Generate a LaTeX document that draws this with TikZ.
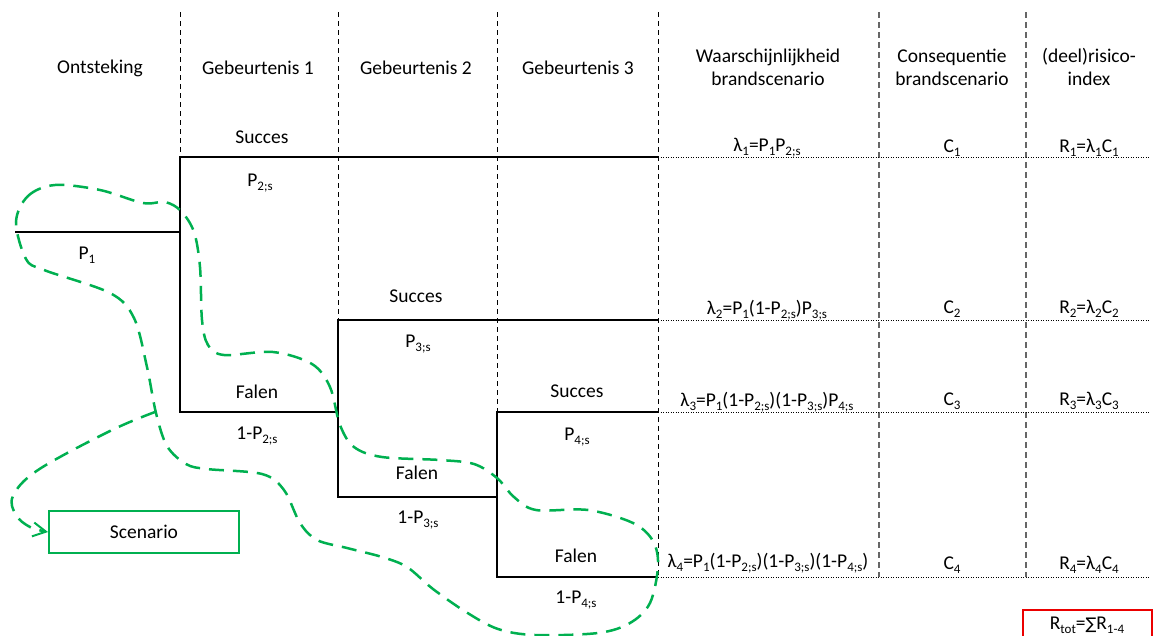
\documentclass[tikz,border=0pt]{standalone}
\usepackage{fontspec}
\setmainfont{Carlito}
\newfontfamily\symf{DejaVu Sans}
\usetikzlibrary{arrows.meta}
\newcommand\sbs[1]{\raisebox{-0.22em}{\fontsize{13}{13}\selectfont #1}}
\definecolor{grn}{RGB}{0,176,80}
\definecolor{rd}{RGB}{235,0,0}
\begin{document}
\begin{tikzpicture}[x=1pt,y=-1pt,font=\fontsize{19.5}{23}\selectfont,
  lbl/.style={inner sep=0pt,align=center},
  tree/.style={line width=2.2pt,black},
  colsep/.style={black,line width=0.8pt,dash pattern=on 5pt off 4pt},
  colsepg/.style={black!60,line width=1.4pt,dash pattern=on 6pt off 4pt},
  rowline/.style={black,line width=0.8pt,dash pattern=on 1pt off 1.5pt},
  gloop/.style={grn,line width=2.5pt,dash pattern=on 15pt off 9pt}]
\clip (0,0) rectangle (1157,635);
% tree coordinates
\coordinate (p0) at (15,232);
\coordinate (b1) at (180,232);
\coordinate (s1) at (180,157);
\coordinate (f1) at (180,412);
\coordinate (j2) at (338,412);
\coordinate (s2) at (338,320);
\coordinate (f2) at (338,497);
\coordinate (j3) at (497,497);
\coordinate (s3) at (497,412);
\coordinate (f3) at (497,577);
\coordinate (e1) at (658,157);
\coordinate (e2) at (658,320);
\coordinate (e3) at (658,412);
\coordinate (e4) at (658,577);
\coordinate (r1) at (1150,157);
\coordinate (r2) at (1150,320);
\coordinate (r3) at (1150,412);
\coordinate (r4) at (1150,577);
\coordinate (t1) at (180,12);
\coordinate (t2) at (338,12);
\coordinate (t3) at (497,12);
\coordinate (t4) at (658,12);
\coordinate (t5) at (879,12);
\coordinate (b5) at (879,577);
\coordinate (t6) at (1026,12);
\coordinate (b6) at (1026,577);
% column separators
\draw[colsep] (t1) -- (s1);
\draw[colsep] (t2) -- (s2);
\draw[colsep] (t3) -- (s3);
\draw[colsep] (t4) -- (e4);
\draw[colsepg] (t5) -- (b5);
\draw[colsepg] (t6) -- (b6);
% row lines
\draw[rowline] (e1) -- (r1);
\draw[rowline] (e2) -- (r2);
\draw[rowline] (e3) -- (r3);
\draw[rowline] (e4) -- (r4);
% tree
\draw[tree] (p0) -- (b1);
\draw[tree] (e1) -- (s1) -- (f1) -- (j2);
\draw[tree] (e2) -- (s2) -- (f2) -- (j3);
\draw[tree] (e3) -- (s3) -- (f3) -- (e4);
% headers
\node[lbl] (h0) at (100,68) {Ontsteking};
\node[lbl] (h1) at (258,68) {Gebeurtenis 1};
\node[lbl] (h2) at (416,68) {Gebeurtenis 2};
\node[lbl] (h3) at (578,68) {Gebeurtenis 3};
\node[lbl] (h4) at (768,67) {Waarschijnlijkheid\\brandscenario};
\node[lbl] (h5) at (952,67) {Consequentie\\brandscenario};
\node[lbl] (h6) at (1089,67) {(deel)risico-\\index};
% branch labels
\node[lbl] (sa) at (262,137) {Succes};
\node[lbl] (pa) at (260,183) {P\sbs{2;s}};
\node[lbl] (p1) at (87,255) {P\sbs{1}};
\node[lbl] (sb) at (416,296) {Succes};
\node[lbl] (pb) at (418,344) {P\sbs{3;s}};
\node[lbl] (fa) at (257,392) {Falen};
\node[lbl] (qa) at (257,436) {1-P\sbs{2;s}};
\node[lbl] (sc) at (577,391) {Succes};
\node[lbl] (pc) at (577,437) {P\sbs{4;s}};
\node[lbl] (fb) at (417,473) {Falen};
\node[lbl] (qb) at (418,520) {1-P\sbs{3;s}};
\node[lbl] (fc) at (576,556) {Falen};
\node[lbl] (qc) at (576,600) {1-P\sbs{4;s}};
% results
\node[lbl] (l1) at (767,148) {λ\sbs{1}=P\sbs{1}P\sbs{2;s}};
\node[lbl] (c1) at (952,148) {C\sbs{1}};
\node[lbl] (R1) at (1089,148) {R\sbs{1}=λ\sbs{1}C\sbs{1}};
\node[lbl] (l2) at (767,310) {λ\sbs{2}=P\sbs{1}(1-P\sbs{2;s})P\sbs{3;s}};
\node[lbl] (c2) at (952,309) {C\sbs{2}};
\node[lbl] (R2) at (1089,309) {R\sbs{2}=λ\sbs{2}C\sbs{2}};
\node[lbl] (l3) at (767,402) {λ\sbs{3}=P\sbs{1}(1-P\sbs{2;s})(1-P\sbs{3;s})P\sbs{4;s}};
\node[lbl] (c3) at (952,401) {C\sbs{3}};
\node[lbl] (R3) at (1089,401) {R\sbs{3}=λ\sbs{3}C\sbs{3}};
\node[lbl] (l4) at (768,563) {λ\sbs{4}=P\sbs{1}(1-P\sbs{2;s})(1-P\sbs{3;s})(1-P\sbs{4;s})};
\node[lbl] (c4) at (952,565) {C\sbs{4}};
\node[lbl] (R4) at (1089,565) {R\sbs{4}=λ\sbs{4}C\sbs{4}};
% total
\node[draw=rd,line width=2pt,minimum width=129pt,minimum height=34pt,inner sep=0pt] (rtot) at (1087.5,627) {};
\node[lbl] (rtt) at (1087,625) {R\sbs{tot}={\symf\fontsize{16}{16}\selectfont ∑}R\sbs{1-4}};
% scenario
\node[draw=grn,line width=2pt,minimum width=190pt,minimum height=42pt,inner sep=0pt] (scn) at (144,532) {Scenario};
% green loop
\draw[gloop] plot[smooth cycle,tension=0.55] coordinates {
 (16,222) (28,196) (55,185) (100,190) (143,203) (165,202) (181,211) (194,232)
 (200,267) (202,320) (208,345) (224,355) (273,352) (312,364) (330,387) (340,425)
 (354,447) (382,457) (440,460) (474,464) (497,478) (514,497) (536,510) (588,510)
 (633,523) (653,541) (658,566) (650,603) (630,623) (598,633) (535,635) (498,629)
 (466,612) (433,589) (407,567) (382,557) (347,548) (317,540) (300,523) (284,490)
 (262,474) (207,469) (186,464) (167,446) (156,413) (147,367) (134,318) (110,293)
 (44,270) (26,259)};
\coordinate (a0) at (155,412);
\draw[gloop,-{Straight Barb[length=13pt,width=14pt,line width=2pt]}] plot[smooth,tension=0.6] coordinates {(a0) (110,431) (38,470) (13,496) (16,515) (30,527) (scn.west)};
\end{tikzpicture}
\end{document}
